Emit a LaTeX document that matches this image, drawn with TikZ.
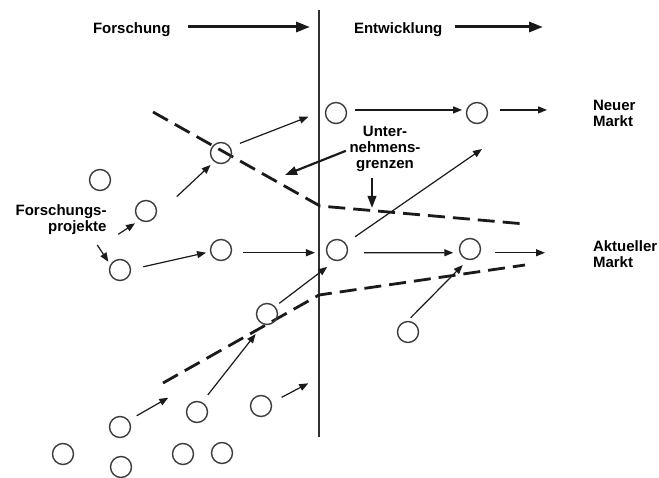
\documentclass[tikz,border=0pt]{standalone}
\usepackage{fontspec}
\setmainfont{Liberation Sans}
\usetikzlibrary{arrows.meta}
\definecolor{ink}{HTML}{1A1A1A}
\begin{document}
\begin{tikzpicture}[x=1pt,y=-1pt,
  ring/.style={circle, draw=ink!85, line width=1.4pt, minimum size=21pt, inner sep=0pt, outer sep=0pt},
  lbl/.style={font=\bfseries\fontsize{15}{16}\selectfont, inner sep=0pt, outer sep=0pt, text=black},
  arr/.style={draw=ink, line width=1.2pt, -{Triangle[length=9pt,width=7pt]}},
  bigarr/.style={draw=ink, line width=3pt, -{Triangle[length=14pt,width=10pt]}},
  midarr/.style={draw=ink, line width=2.2pt, -{Triangle[length=12pt,width=8.5pt]}},
  bounddash/.style={draw=ink, line width=2.8pt, dash pattern=on 17pt off 8pt},
  divider/.style={draw=ink!90, line width=1.6pt}]
\fill[white] (0,0) rectangle (659,478);
\useasboundingbox (0,0) rectangle (659,478);

% texts
\node[lbl, anchor=base west] (fo) at (93,34) {Forschung};
\node[lbl, anchor=base west] (ent) at (354,34) {Entwicklung};
\node[lbl, anchor=north west, align=left] (neu) at (593,100) {Neuer\\Markt};
\node[lbl, anchor=north west, align=left] (akt) at (593,240.3) {Aktueller\\Markt};
\node[lbl, anchor=north east, align=right] (fp) at (106.5,205) {Forschungs-\\projekte};
\node[lbl, anchor=north, align=center] (ug) at (385,126.6) {Unter-\\nehmens-\\grenzen};

% boundaries
\draw[divider] (319,10) -- (319,437);
\draw[bounddash] (153,112) -- (320,206) -- (525,224);
\draw[bounddash] (163,383) -- (319,295) -- (525,265);

% projects
\node[ring] (A) at (336,113) {};
\node[ring] (B) at (477,113) {};
\node[ring] (C) at (221,153) {};
\node[ring] (D) at (100,180) {};
\node[ring] (E) at (146,211) {};
\node[ring] (F) at (120,270) {};
\node[ring] (G) at (221,250) {};
\node[ring] (H) at (337,250) {};
\node[ring] (I) at (470,249) {};
\node[ring] (J) at (267,314) {};
\node[ring] (K) at (408,332) {};
\node[ring] (L) at (120,427) {};
\node[ring] (M) at (197,412) {};
\node[ring] (N) at (261,406) {};
\node[ring] (O) at (63,454) {};
\node[ring] (P) at (121,467) {};
\node[ring] (Q) at (183,454) {};
\node[ring] (R) at (222,453) {};

% free ends
\coordinate (foEnd) at (310,27);
\coordinate (entEnd) at (543,27);
\coordinate (fpS1) at (118.3,234.3);
\coordinate (fpS2) at (97.3,245);
\coordinate (lEnd) at (168.3,397.7);
\coordinate (nEnd) at (308.3,383.3);
\coordinate (hEnd) at (482,149);
\coordinate (ugL) at (285,175);
\coordinate (ugD) at (372,208);

% header arrows
\draw[bigarr, shorten <=17.5pt] (fo.east |- foEnd) -- (foEnd);
\draw[bigarr, shorten <=12.8pt] (ent.east |- entEnd) -- (entEnd);

% project arrows
\draw[arr, shorten <=10.9pt, shorten >=18.8pt] (C.33) -- (A.163);
\draw[arr, shorten <=32.1pt, shorten >=5.4pt] (E.-46) -- (C.232);
\draw[arr, shorten <=13.1pt, shorten >=4.7pt] (F.2) -- (G.189);
\draw[arr, shorten <=12.2pt, shorten >=11.9pt] (G.-15) -- (H.195);
\draw[arr, shorten <=16.9pt, shorten >=6.9pt] (H.-15) -- (I.201);
\draw[arr, shorten <=15.2pt, shorten >=48pt] (I.-21) -- (I.-21 -| akt.west);
\draw[arr, shorten <=8.9pt, shorten >=4.9pt] (A.17) -- (B.163);
\draw[arr, shorten <=13pt, shorten >=46pt] (B.17) -- (B.17 -| neu.west);
\draw[arr, shorten <=5.8pt, shorten >=10.7pt] (J.43) -- (H.263);
\draw[arr, shorten <=5.4pt, shorten >=8pt] (K.96) -- (I.261);
\draw[arr, shorten <=9.7pt, shorten >=12.9pt] (M.63) -- (J.251);
\draw[arr, shorten <=9.7pt] (L.38) -- (lEnd);
\draw[arr, shorten <=12pt] (N.17) -- (nEnd);
\draw[arr, shorten <=11.9pt] (H.38) -- (hEnd);

% label pointers
\draw[arr, shorten >=6.3pt] (fpS1) -- (E.237);
\draw[arr, shorten >=4.2pt] (fpS2) -- (F.153);
\draw[midarr, shorten <=4pt] (ug.west) -- (ugL);
\draw[midarr, shorten <=5.5pt] (ugD |- ug.south) -- (ugD);
\end{tikzpicture}
\end{document}
